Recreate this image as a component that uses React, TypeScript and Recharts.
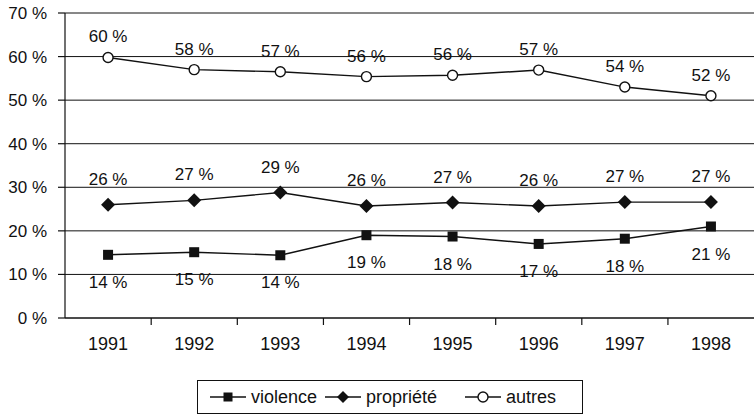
import { LineChart, Line, XAxis, YAxis, CartesianGrid, LabelList } from 'recharts'

const YEARS = ['1991', '1992', '1993', '1994', '1995', '1996', '1997', '1998']
const VIOLENCE = [14.5, 15.1, 14.4, 19.0, 18.7, 17.0, 18.2, 21.0]
const PROPRIETE = [26.0, 27.0, 28.8, 25.7, 26.5, 25.7, 26.6, 26.6]
const AUTRES = [59.8, 57.0, 56.5, 55.4, 55.7, 56.9, 53.0, 51.0]
const VIOLENCE_LABELS = ['14 %', '15 %', '14 %', '19 %', '18 %', '17 %', '18 %', '21 %']
const PROPRIETE_LABELS = ['26 %', '27 %', '29 %', '26 %', '27 %', '26 %', '27 %', '27 %']
const AUTRES_LABELS = ['60 %', '58 %', '57 %', '56 %', '56 %', '57 %', '54 %', '52 %']
const Y_TICKS = [0, 10, 20, 30, 40, 50, 60, 70]

const FONT = '"Liberation Sans", Arial, sans-serif'
const INK = '#111'
const BAND = 86

const data = YEARS.map((year, i) => ({
  year,
  violence: VIOLENCE[i],
  propriete: PROPRIETE[i],
  autres: AUTRES[i],
  violenceLabel: VIOLENCE_LABELS[i],
  proprieteLabel: PROPRIETE_LABELS[i],
  autresLabel: AUTRES_LABELS[i],
}))

const Square = ({ cx, cy, size = 10 }: any) => (
  <rect x={cx - size / 2} y={cy - size / 2} width={size} height={size} fill={INK} />
)

const Diamond = ({ cx, cy, size = 7 }: any) => (
  <polygon points={`${cx},${cy - size} ${cx + size},${cy} ${cx},${cy + size} ${cx - size},${cy}`} fill={INK} />
)

const Ring = ({ cx, cy }: any) => <circle cx={cx} cy={cy} r={5} fill="#fff" stroke={INK} strokeWidth={1.4} />

// year label in the band centre, tick mark on the band's left edge
const YearTick = (props: any) => {
  const { x, y, payload, index } = props
  const axisY = y - 19
  return (
    <g>
      {index > 0 && <line x1={x - BAND / 2} y1={axisY} x2={x - BAND / 2} y2={axisY + 7} stroke={INK} strokeWidth={1.2} />}
      <text x={x} y={y} dy="0.72em" textAnchor="middle" fontSize={18} fontFamily={FONT} fill={INK}>
        {payload.value}
      </text>
    </g>
  )
}

const labelStyle = { fontSize: 17, fontFamily: FONT, fill: INK }

const LEGEND = [
  { name: 'violence', Icon: Square, w: 115 },
  { name: 'propriété', Icon: Diamond, w: 140 },
  { name: 'autres', Icon: Ring, w: 100 },
]

function Legend() {
  return (
    <div
      style={{
        position: 'absolute',
        left: 197,
        top: 380,
        width: 386,
        height: 34,
        border: `1px solid ${INK}`,
        boxSizing: 'border-box',
        display: 'flex',
        alignItems: 'center',
        paddingLeft: 12,
        fontFamily: FONT,
        fontSize: 18,
        color: INK,
      }}
    >
      {LEGEND.map(({ name, Icon, w }) => (
        <div key={name} style={{ display: 'flex', alignItems: 'center', gap: 5, width: w, flex: 'none' }}>
          <svg width={36} height={16}>
            <line x1={0} y1={8} x2={36} y2={8} stroke={INK} strokeWidth={1.4} />
            <Icon cx={18} cy={8} size={name === 'violence' ? 9 : 6} />
          </svg>
          <span>{name}</span>
        </div>
      ))}
    </div>
  )
}

export default function App() {
  return (
    <div style={{ position: 'absolute', left: 0, top: 0, width: 754, height: 419, background: '#fff' }}>
      <LineChart width={754} height={419} data={data} margin={{ top: 13, right: 0, bottom: 61, left: 0 }}>
        <CartesianGrid vertical={false} stroke={INK} strokeWidth={1} />
        <XAxis
          dataKey="year"
          scale="band"
          height={40}
          axisLine={{ stroke: INK, strokeWidth: 1.2 }}
          tickLine={false}
          tickSize={7}
          tickMargin={12}
          tick={<YearTick />}
          interval={0}
        />
        <YAxis
          width={65}
          domain={[0, 70]}
          ticks={Y_TICKS}
          tickFormatter={(v) => `${v} %`}
          axisLine={{ stroke: INK, strokeWidth: 1.2 }}
          tickLine={{ stroke: INK, strokeWidth: 1.2 }}
          tickSize={7}
          tickMargin={11}
          tick={{ fontSize: 17, fontFamily: FONT, fill: INK }}
        />
        <Line dataKey="violence" stroke={INK} strokeWidth={1.4} dot={<Square />} activeDot={false} isAnimationActive={false}>
          <LabelList dataKey="violenceLabel" position="bottom" offset={21} style={labelStyle} />
        </Line>
        <Line dataKey="propriete" stroke={INK} strokeWidth={1.4} dot={<Diamond />} activeDot={false} isAnimationActive={false}>
          <LabelList dataKey="proprieteLabel" position="top" offset={20} style={labelStyle} />
        </Line>
        <Line dataKey="autres" stroke={INK} strokeWidth={1.4} dot={<Ring />} activeDot={false} isAnimationActive={false}>
          <LabelList dataKey="autresLabel" position="top" offset={15} style={labelStyle} />
        </Line>
      </LineChart>
      <Legend />
    </div>
  )
}
